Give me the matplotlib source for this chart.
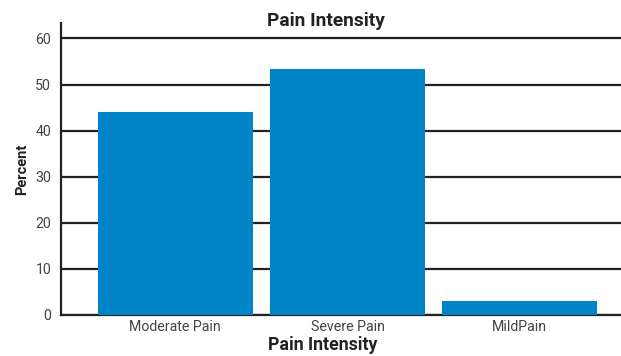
import matplotlib
matplotlib.use("Agg")
import matplotlib.pyplot as plt

categories = ["Moderate Pain", "Severe Pain", "MildPain"]
values = [44.0, 53.3, 2.9]
yticks = [0, 10, 20, 30, 40, 50, 60]

plt.rcParams['font.family'] = ['Roboto', 'DejaVu Sans']

W, H = 621, 356
fig = plt.figure(figsize=(W/100, H/100), dpi=100)
ax = fig.add_axes([61/W, (H-314.7)/H, 1 - 61/W, (314.7-23.3)/H])

x = list(range(len(categories)))
ax.set_axisbelow(True)
ax.yaxis.grid(True, color="#222222", linewidth=1.6)
ax.bar(x, values, width=0.9, color="#0085C8", zorder=3)

ax.set_xlim(-0.663, 2.587)
ax.set_ylim(0, 63.3)
ax.set_yticks(yticks)
ax.set_xticks(x)
ax.set_xticklabels(categories)
ax.tick_params(axis='both', length=0, labelsize=10.2, labelcolor="#444444")
ax.tick_params(axis='y', pad=7)
ax.tick_params(axis='x', pad=4)
for s in ["top", "right"]:
    ax.spines[s].set_visible(False)
ax.spines["left"].set_color("#222222")
ax.spines["left"].set_linewidth(1.6)
ax.spines["bottom"].set_color("#222222")
ax.spines["bottom"].set_linewidth(1.6)

fig.text(326/W, 1 - 21/H, "Pain Intensity", fontsize=13.8, fontweight="bold",
         color="#222222", ha="center", va="center")
fig.text(323/W, 1 - 345/H, "Pain Intensity", fontsize=12.8, fontweight="bold",
         color="#222222", ha="center", va="center")
fig.text(22/W, 1 - 169/H, "Percent", fontsize=10.5, fontweight="bold",
         color="#222222", ha="center", va="center", rotation=90)

fig.savefig("out.png", dpi=100)
